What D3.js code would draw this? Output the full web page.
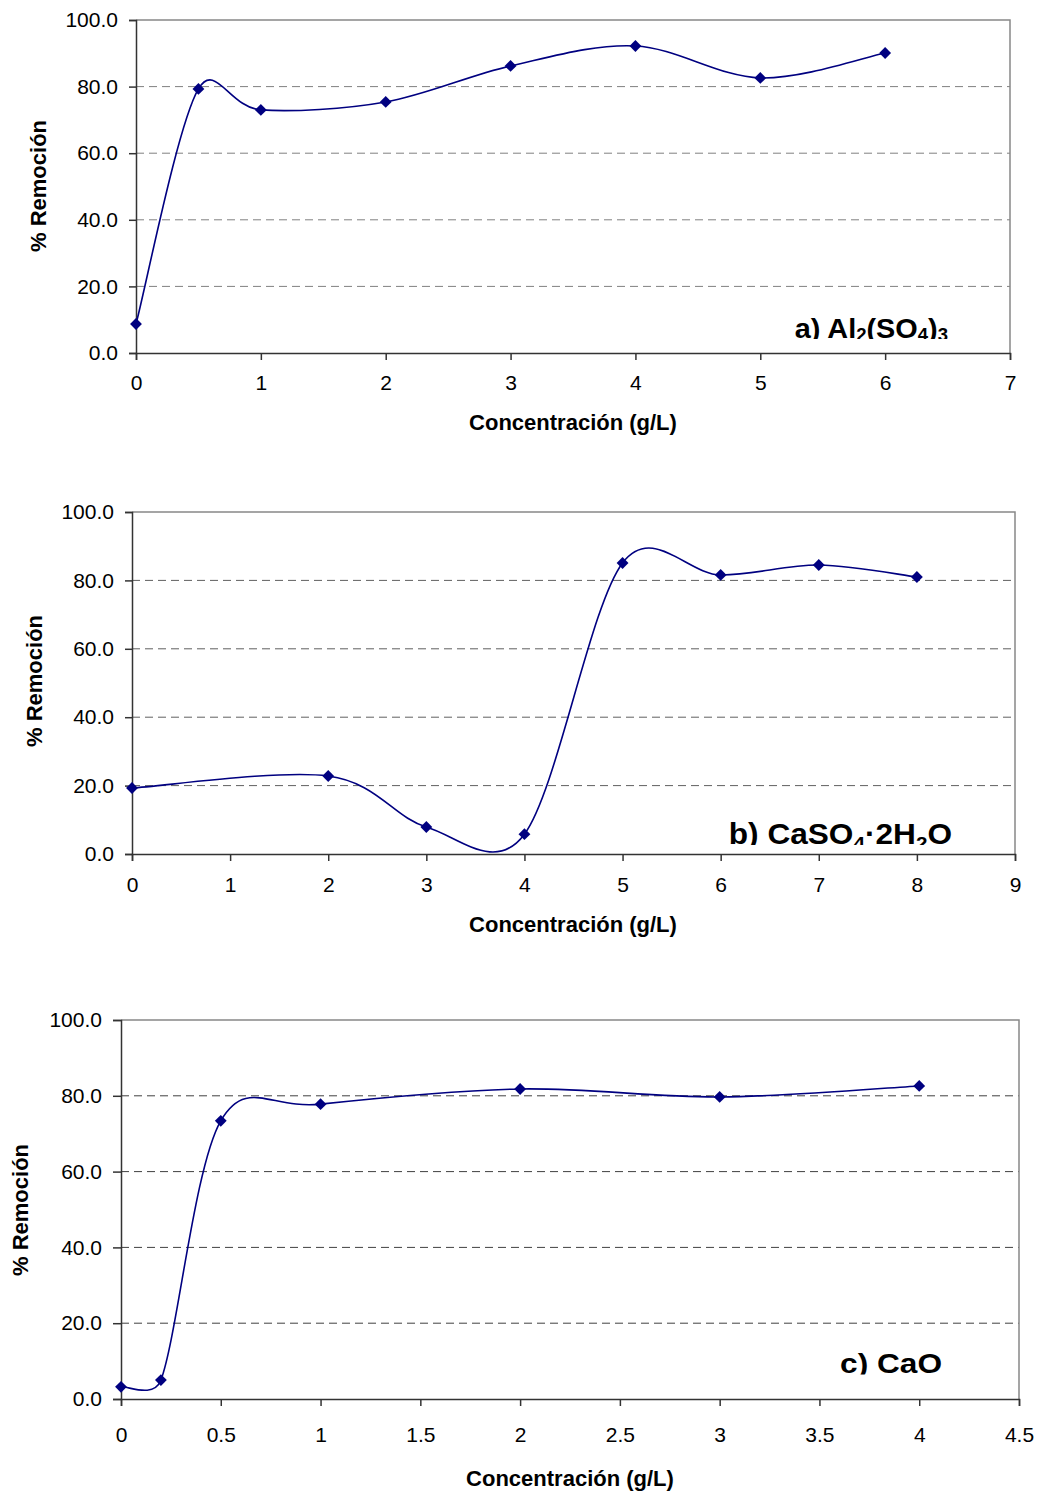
<!DOCTYPE html>
<html><head><meta charset="utf-8">
<script src="https://cdn.jsdelivr.net/npm/d3@7"></script>
<style>body{margin:0;background:#fff}svg{display:block}text{font-family:"Liberation Sans",Arial,sans-serif}</style>
</head><body>
<script>
const xA = [0, 0.5, 1, 2, 3, 4, 5, 6];
const yA = [8.7, 79.3, 73.0, 75.4, 86.2, 92.2, 82.6, 90.1];
const xB = [0, 2, 3, 4, 5, 6, 7, 8];
const yB = [19.3, 22.8, 7.9, 5.8, 85.1, 81.6, 84.5, 81.0];
const xC = [0, 0.2, 0.5, 1, 2, 3, 4];
const yC = [3.2, 5.0, 73.4, 77.8, 81.8, 79.7, 82.6];
const yTicks = [0, 20, 40, 60, 80, 100];
const xTicksA = [0,1,2,3,4,5,6,7];
const xTicksB = [0,1,2,3,4,5,6,7,8,9];
const xTicksC = [0,0.5,1,1.5,2,2.5,3,3.5,4,4.5];
const yTitle = "% Remoción";
const xTitle = "Concentración (g/L)";

// Spreadsheet-style smoothed line: cubic Bezier, handle = 1/6 of neighbour chord, capped at half the segment.
function excelCurve(context) {
  let pts = [];
  return {
    areaStart(){}, areaEnd(){},
    lineStart(){ pts = []; },
    point(x, y){ pts.push([+x, +y]); },
    lineEnd(){
      const n = pts.length;
      if (!n) return;
      context.moveTo(pts[0][0], pts[0][1]);
      const dist = (a,b)=>Math.hypot(a[0]-b[0], a[1]-b[1]);
      for (let i = 0; i < n-1; i++) {
        const p0 = pts[Math.max(i-1,0)], p1 = pts[i], p2 = pts[i+1], p3 = pts[Math.min(i+2,n-1)];
        const d12 = dist(p1,p2), d02 = dist(p0,p2), d13 = dist(p1,p3);
        let f0 = 1/6, f1 = 1/6;
        if (d02/6 >= d12/2 && d02 > 0) f0 = d12/2/d02;
        if (d13/6 >= d12/2 && d13 > 0) f1 = d12/2/d13;
        const c1 = [p1[0] + (p2[0]-p0[0])*f0, p1[1] + (p2[1]-p0[1])*f0];
        const c2 = [p2[0] - (p3[0]-p1[0])*f1, p2[1] - (p3[1]-p1[1])*f1];
        context.bezierCurveTo(c1[0], c1[1], c2[0], c2[1], p2[0], p2[1]);
      }
    }
  };
}

const svg = d3.select("body").append("svg").attr("width",1039).attr("height",1494);

const panels = [
  {id:"a", xs:xA, ys:yA, xt:xTicksA, xmax:7, x0:136, x1:1010, y0:353, y1:20, grid:"#808080", xpad:15, tick:7,
   ytx:40, yty:186, xtx:573, xty:430, lx:948, ly:337.5, fs:28, sfs:18, sdy:3, sx:1.03,
   label:[["a) Al",0],["2",1],["(SO",0],["4",1],[")",0],["3",1]], fmt:d3.format("d")},
  {id:"b", xs:xB, ys:yB, xt:xTicksB, xmax:9, x0:132, x1:1015, y0:854, y1:512, grid:"#606060", xpad:16, tick:7,
   ytx:36, yty:681, xtx:573, xty:932, lx:952, ly:843.5, fs:29, sfs:19, sdy:6, sx:1.09,
   label:[["b) CaSO",0],["4",1],["·2H",0],["2",1],["O",0]], fmt:d3.format("d")},
  {id:"c", xs:xC, ys:yC, xt:xTicksC, xmax:4.5, x0:121, x1:1019, y0:1399, y1:1020, grid:"#404040", xpad:21, tick:8,
   ytx:22, yty:1210, xtx:570, xty:1486, lx:942, ly:1373, fs:28, sfs:18, sdy:4, sx:1.13,
   label:[["c) CaO",0]], fmt:d=>String(d)}
];

panels.forEach(p=>{
  const x = d3.scaleLinear().domain([0,p.xmax]).range([p.x0,p.x1]);
  const y = d3.scaleLinear().domain([0,100]).range([p.y0,p.y1]);
  const g = svg.append("g");
  svg.append("clipPath").attr("id","clip"+p.id).append("rect")
    .attr("x",p.x0).attr("y",p.y1).attr("width",p.x1-p.x0).attr("height",p.ly+1.5-p.y1);
  g.selectAll(".grid").data(yTicks.filter(t=>t>0&&t<100)).join("line")
    .attr("x1",p.x0).attr("x2",p.x1).attr("y1",d=>y(d)).attr("y2",d=>y(d))
    .attr("stroke",p.grid).attr("stroke-width",1).attr("stroke-dasharray","8,5");
  g.append("path").attr("d",`M${p.x0},${p.y1}H${p.x1}V${p.y0}`).attr("fill","none")
    .attr("stroke","#888").attr("stroke-width",1.5);
  const lg = g.append("g").attr("clip-path",`url(#clip${p.id})`);
  const lt = lg.append("text").attr("transform",`translate(${p.lx},${p.ly}) scale(${p.sx},1)`)
    .attr("text-anchor","end").attr("font-size",p.fs).attr("font-weight","bold").attr("fill","#000");
  let prevSub=false;
  p.label.forEach(([s,sub])=>{
    const ts = lt.append("tspan").text(s);
    if(sub){ ts.attr("font-size",p.sfs); if(!prevSub) ts.attr("dy",p.sdy); }
    else if(prevSub){ ts.attr("dy",-p.sdy); }
    prevSub=!!sub;
  });
  const ya = g.append("g").attr("transform",`translate(${p.x0},0)`)
    .call(d3.axisLeft(y).tickValues(yTicks).tickFormat(d3.format(".1f")).tickSize(p.tick).tickPadding(11));
  const xa = g.append("g").attr("transform",`translate(0,${p.y0})`)
    .call(d3.axisBottom(x).tickValues(p.xt).tickFormat(p.fmt).tickSize(7).tickPadding(p.xpad));
  [ya,xa].forEach(a=>{
    a.selectAll("path,line").attr("stroke","#333").attr("stroke-width",1.5);
    a.selectAll("text").attr("font-size",21).attr("fill","#000").attr("font-family","Liberation Sans, Arial, sans-serif");
  });
  const pts = p.xs.map((v,i)=>[v,p.ys[i]]);
  g.append("path").datum(pts)
    .attr("d",d3.line().x(d=>x(d[0])).y(d=>y(d[1])).curve(excelCurve))
    .attr("fill","none").attr("stroke","#000080").attr("stroke-width",1.6);
  g.selectAll(".m").data(pts).join("path")
    .attr("d",d3.symbol(d3.symbolSquare,70)())
    .attr("transform",d=>`translate(${x(d[0])},${y(d[1])}) rotate(45)`)
    .attr("fill","#000080");
  g.append("text").attr("transform",`translate(${p.ytx},${p.yty}) rotate(-90)`)
    .attr("text-anchor","middle").attr("dominant-baseline","middle").attr("font-size",22).attr("font-weight","bold").text(yTitle);
  g.append("text").attr("x",p.xtx).attr("y",p.xty).attr("text-anchor","middle")
    .attr("font-size",22).attr("font-weight","bold").text(xTitle);
});
</script>
</body></html>
